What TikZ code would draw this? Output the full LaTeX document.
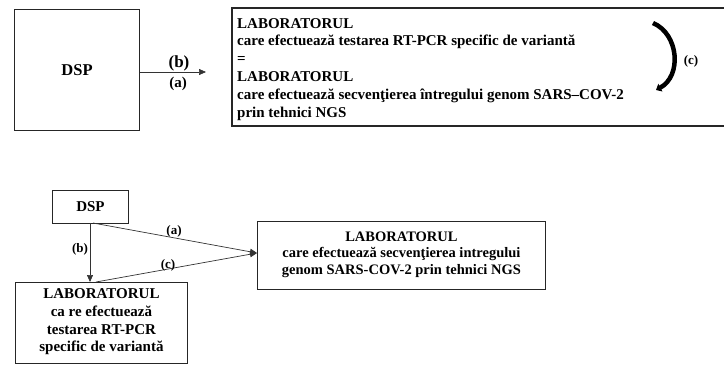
\documentclass[tikz,border=0pt]{standalone}
\usepackage{fontspec}
\setmainfont{Liberation Serif}
\usetikzlibrary{arrows.meta}
\tikzset{
  box/.style={draw=black!85, line width=1.1pt},
  conn/.style={draw=black!80, line width=0.7pt, -{Triangle[length=7pt,width=6pt]}},
  lbl/.style={font=\bfseries\fontsize{13}{14}\selectfont, inner sep=0.5pt},
  txt/.style={font=\bfseries\fontsize{15}{17.8}\selectfont, inner sep=0pt},
}
\begin{document}
\begin{tikzpicture}[x=1pt,y=-1pt]
\useasboundingbox (0,0) rectangle (724,365);
% ---------- top part ----------
\node[box, minimum width=125pt, minimum height=121pt, anchor=north west] (dsp1) at (14,9) {};
\node[txt, font=\bfseries\fontsize{16.5}{18}\selectfont] (dsp1t) at (dsp1.center) {DSP};
\draw[box, line width=1.3pt] (232,8) rectangle (740,126);
\node[txt, align=left, anchor=north west] (lab1t) at (237,18) {LABORATORUL\\
care efectuează testarea RT-PCR specific de variantă\\
=\\
LABORATORUL\\
care efectuează secvenţierea întregului genom SARS–COV-2\\
prin tehnici NGS};
\coordinate (tip1) at (206,72);
\draw[conn] (dsp1.east |- tip1) -- (tip1);
\node[lbl, font=\bfseries\fontsize{17}{18}\selectfont] (lb1) at (179,63) {(b)};
\node[lbl, font=\bfseries\fontsize{15}{16}\selectfont] (la1) at (178,84) {(a)};
% curved arrow (c)
\coordinate (c1) at (653,23);
\coordinate (c2) at (656,90);
\draw[line width=4.5pt, -{Triangle[length=5pt,width=8.5pt]}] (c1) .. controls (679,34) and (682,76) .. (c2);
\node[lbl] (lc1) at (691,61) {(c)};
% ---------- bottom part ----------
\node[box, line width=0.9pt, minimum width=76pt, minimum height=33pt, anchor=north west] (dsp2) at (52,190) {};
\node[txt] (dsp2t) at (dsp2.center) {DSP};
\node[box, line width=0.9pt, minimum width=288pt, minimum height=68pt, anchor=north west] (ngs) at (257,221) {};
\node[txt, align=center, font=\bfseries\fontsize{14.5}{16.5}\selectfont] (ngst) at ([yshift=1pt]ngs.center) {LABORATORUL\\
care efectuează secvenţierea intregului\\
genom SARS-COV-2 prin tehnici NGS};
\node[box, line width=0.9pt, minimum width=172pt, minimum height=81pt, anchor=north west] (pcr) at (15,282) {};
\node[txt, align=center, font=\bfseries\fontsize{15}{17.7}\selectfont] (pcrt) at ([yshift=1pt]pcr.center) {LABORATORUL\\
ca re efectuează\\
testarea RT-PCR\\
specific de variantă};
\coordinate (tip2) at (257,253);
\coordinate (sa) at (93,223);
\coordinate (sc) at (96,282);
\draw[conn] (90,223) -- (90,282);
\draw[conn] (sa) -- (tip2);
\draw[conn] (sc) -- (tip2);
\node[lbl] (la2) at (174,231) {(a)};
\node[lbl] (lb2) at (80,249) {(b)};
\node[lbl] (lc2) at (168,265) {(c)};
\end{tikzpicture}
\end{document}
